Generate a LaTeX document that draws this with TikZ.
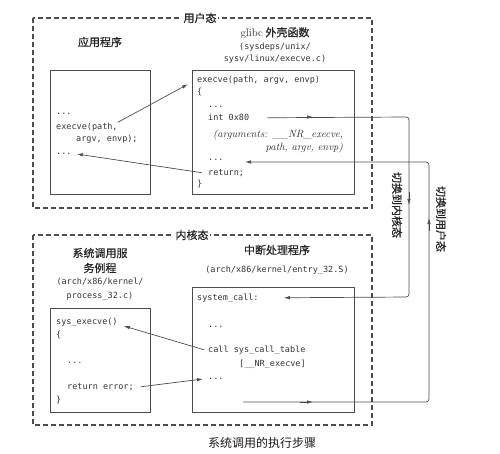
\documentclass[tikz,border=0pt]{standalone}
\usepackage{fontspec}
\setmonofont{DejaVu Sans Mono}
\newfontfamily\cjk{Noto Sans CJK SC}
\newfontfamily\cjkhead[FakeBold=0.8]{Noto Sans CJK SC}
\usetikzlibrary{arrows.meta}
\tikzset{
	modebox/.style={draw=black!70, line width=1.1pt, dash pattern=on 5pt off 3pt},
	modelbl/.style={fill=white, inner sep=1.5pt, text=black!85, font=\cjkhead\fontsize{11}{11}\selectfont},
	codebox/.style={draw=black!70, line width=1pt},
	head/.style={inner sep=0pt, text=black!85, font=\cjkhead\fontsize{11}{11}\selectfont},
	headpath/.style={inner sep=0pt, text=black!80, font=\ttfamily\fontsize{8.5}{9}\selectfont},
	codeline/.style={anchor=base west, inner sep=0pt, text height=6.5pt, text depth=2pt, text=black!80, font=\ttfamily\fontsize{8.5}{9}\selectfont},
	argline/.style={inner sep=0pt, text=black!80, font=\rmfamily\itshape\fontsize{10.5}{11}\selectfont},
	wire/.style={draw=black!70, line width=0.7pt, rounded corners=3pt},
	flow/.style={wire, -{Latex[length=6pt,width=3.5pt]}},
	vlbl/.style={inner sep=0pt, rotate=-90, text=black!85, font=\cjkhead\fontsize{11}{11}\selectfont}
}
\begin{document}
\begin{tikzpicture}[x=1pt,y=-1pt]
			%%%%% START %%%%%
			\useasboundingbox (0,0) rectangle (500,453);
			
			\draw[modebox] (33,18) rectangle (372,208);
			\node[modelbl] (userlbl) at (200,18) {用户态};
			\draw[modebox] (33,235) rectangle (372,425);
			\node[modelbl] (kernlbl) at (192,235) {内核态};
			
			% user space: application
			\node[head] (apphead) at (100,42) {应用程序};
			\draw[codebox] (50,70) rectangle (150,194);
			\node[codeline] (appdotsA) at (56,114) {...};
			\node[codeline] (appcall) at (56,129) {execve(path,};
			\node[codeline] (appargs) at (76,141) {argv, envp);};
			\node[codeline] (appdotsB) at (56,154) {...};
			
			% user space: glibc wrapper
			\node[head] (ghead) at (275,33) {{\rmfamily glibc} 外壳函数};
			\node[headpath] (gpathA) at (275,47) {(sysdeps/unix/};
			\node[headpath] (gpathB) at (275,59) {sysv/linux/execve.c)};
			\draw[codebox] (192,70) rectangle (354,194);
			\node[codeline] (gdef) at (197,82) {execve(path, argv, envp)};
			\node[codeline] (gopen) at (197,94) {\{};
			\node[codeline] (gdotsA) at (208,107) {...};
			\node[codeline] (gint) at (208,120) {int 0x80};
			\node[argline, anchor=base west] (gargA) at (213,137) {(arguments: \_\_NR\_execve,};
			\node[argline, anchor=base east] (gargB) at (343,150) {path, argv, envp)};
			\node[codeline] (gdotsB) at (208,160) {...};
			\node[codeline] (gret) at (208,175) {return;};
			\node[codeline] (gclose) at (197,186) {\}};
			
			% kernel: service routine
			\node[head] (kheadA) at (100,253) {系统调用服};
			\node[head] (kheadB) at (100,268) {务例程};
			\node[headpath] (kpathA) at (100,282) {(arch/x86/kernel/};
			\node[headpath] (kpathB) at (100,296) {process\_32.c)};
			\draw[codebox] (50,308) rectangle (150,412);
			\node[codeline] (ksys) at (56,324) {sys\_execve()};
			\node[codeline] (kopen) at (56,337) {\{};
			\node[codeline] (kdotsA) at (67,363) {...};
			\node[codeline] (kret) at (67,389) {return error;};
			\node[codeline] (kclose) at (56,402) {\}};
			
			% kernel: interrupt handler
			\node[head] (ihead) at (277,250) {中断处理程序};
			\node[headpath] (ipath) at (277,270) {(arch/x86/kernel/entry\_32.S)};
			\draw[codebox] (192,287) rectangle (354,412);
			\node[codeline] (isc) at (197,300) {system\_call:};
			\node[codeline] (idotsA) at (208,327) {...};
			\node[codeline] (icall) at (208,352) {call sys\_call\_table};
			\node[codeline] (iidx) at (239,366) {[\_\_NR\_execve]};
			\node[codeline] (idotsB) at (208,379) {...};
			
			% calls inside each mode
			\draw[flow] (appcall.north east) -- ([xshift=-9pt]gdef.south west);
			\draw[flow] ([xshift=-6pt]gret.west) -- ([xshift=5pt]appdotsB.base east);
			\draw[flow] ([xshift=-4pt]icall.west) -- ([shift={(6pt,-2pt)}]ksys.base east);
			\draw[flow] ([xshift=7pt]kret.east) -- ([xshift=-5pt]idotsB.base west);
			
			% switch to kernel mode
			\coordinate (inTop) at (409,117);
			\coordinate (inBot) at (409,297);
			\draw[flow] ([xshift=18pt]gint.east) -- (inTop) -- (inBot) -- ([xshift=25pt]isc.east);
			\draw[flow] (300,117) -- (313,117);
			\draw[flow] (409,192) -- (409,205);
			\node[vlbl] (tokern) at (397,205) {切换到内核态};
			
			% switch back to user mode
			\coordinate (outStart) at (243,402);
			\coordinate (outBot) at (429,402);
			\coordinate (outTop) at (429,162);
			\draw[flow] (outStart) -- (outBot) -- (outTop) -- (245,162);
			\draw[flow] (300,402) -- (313,402);
			\draw[flow] (429,231) -- (429,218);
			\node[vlbl] (touser) at (441,219) {切换到用户态};
			
			\node[inner sep=0pt, text=black!90, font=\cjk\fontsize{12}{12}\selectfont] (caption) at (262,443) {系统调用的执行步骤};
			
			%%%%% END %%%%%
		\end{tikzpicture}
\end{document}
